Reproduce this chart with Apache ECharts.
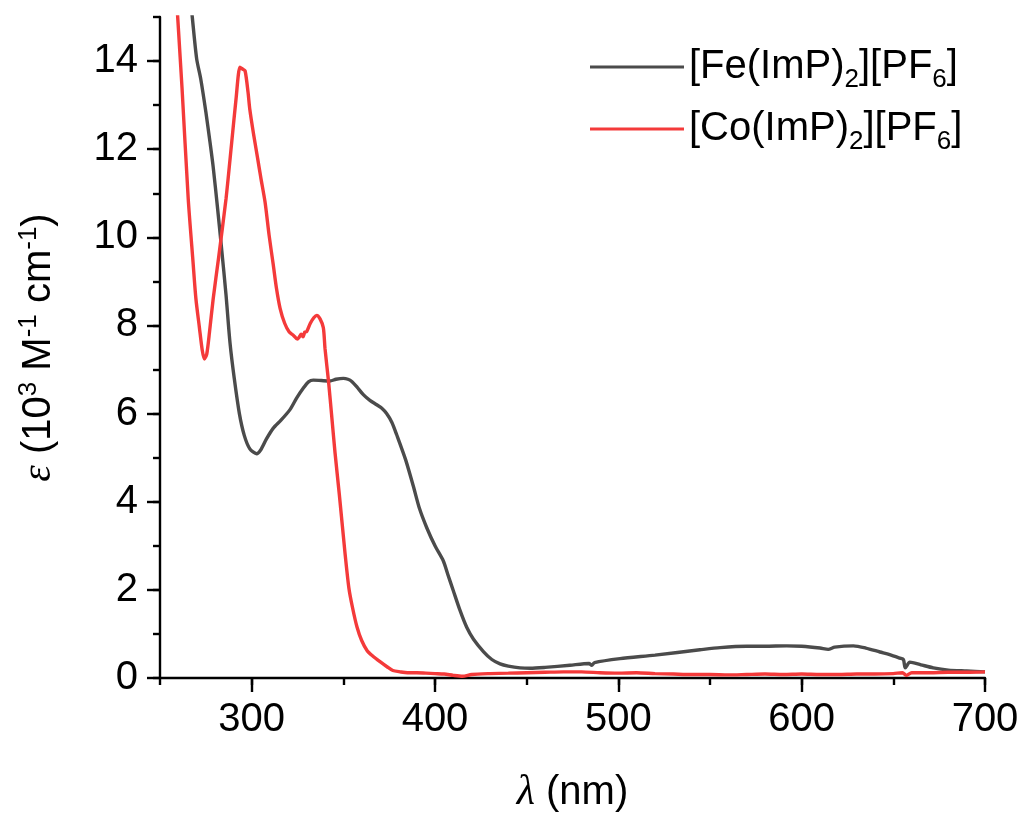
<!DOCTYPE html>
<html>
<head>
<meta charset="utf-8">
<script src="https://cdn.jsdelivr.net/npm/echarts@6/dist/echarts.min.js"></script>
<style>html,body{margin:0;padding:0;background:#fff}#c{width:1024px;height:819px}</style>
</head>
<body>
<div id="c"></div>
<script>
// Wavelengths (nm) and extinction coefficients (10^3 M^-1 cm^-1)
const feWl = [264, 267.6, 270, 272.2, 275, 277.3, 279, 281.3, 283.6, 286, 288.2, 290.5, 293.3, 296, 299, 302.7, 305, 308, 311.8, 316, 320.9, 324.5, 328.2, 331, 333.6, 338, 342.7, 346, 350, 352.5, 354.6, 357.5, 360.9, 364.5, 368.2, 371, 373.6, 376.5, 379.1, 384, 388.2, 391.5, 395.5, 400, 404.5, 407, 410, 413.5, 417.3, 421, 426.4, 431, 435.5, 440, 446.4, 452, 460, 473.6, 484, 485.5, 487, 500.9, 520, 544.5, 555.5, 570, 580, 591.8, 600, 610, 614.5, 618, 628.2, 635, 642.7, 648, 653.6, 655.5, 656.5, 659, 665, 671.8, 680, 690, 700];
const feEps = [16.5, 15.0, 14.05, 13.6, 12.85, 12.15, 11.6, 10.7, 9.74, 8.7, 7.6, 6.8, 6.0, 5.5, 5.2, 5.09, 5.18, 5.42, 5.67, 5.85, 6.09, 6.35, 6.58, 6.72, 6.76, 6.75, 6.74, 6.78, 6.8, 6.78, 6.73, 6.6, 6.43, 6.3, 6.2, 6.12, 6.0, 5.8, 5.52, 4.95, 4.35, 3.85, 3.41, 3.0, 2.66, 2.35, 1.98, 1.55, 1.15, 0.88, 0.6, 0.42, 0.32, 0.27, 0.23, 0.22, 0.24, 0.29, 0.33, 0.29, 0.35, 0.44, 0.52, 0.64, 0.69, 0.72, 0.72, 0.73, 0.72, 0.68, 0.65, 0.7, 0.73, 0.68, 0.59, 0.53, 0.45, 0.42, 0.23, 0.36, 0.3, 0.23, 0.18, 0.16, 0.14];

const coWl = [258, 262, 265.4, 268, 269.6, 271.5, 273, 274.2, 275.5, 277, 279, 282, 286, 289.1, 291.5, 293.6, 295, 296.4, 298, 299, 301, 303.3, 305, 307.3, 309.5, 311.8, 313.5, 315.5, 318, 320.5, 322.7, 324.9, 326, 327, 328, 329, 330, 332, 334, 335.5, 337.3, 339.1, 340, 342, 343.6, 345.5, 347.8, 351, 353, 355, 357.5, 360, 363, 366, 370, 374, 377, 381, 385, 390, 395, 400, 405, 410, 415, 420, 430, 440, 450, 460, 470, 480, 490, 500, 510, 520, 530, 540, 550, 560, 570, 580, 590, 600, 610, 620, 630, 640, 650, 655, 657, 660, 670, 680, 690, 700];
const coEps = [16.1, 13.4, 10.87, 9.45, 8.6, 7.95, 7.45, 7.24, 7.35, 7.85, 8.6, 9.55, 10.87, 12.15, 13.15, 13.86, 13.82, 13.78, 13.3, 12.9, 12.35, 11.78, 11.35, 10.8, 10.05, 9.37, 8.85, 8.39, 8.05, 7.85, 7.78, 7.69, 7.74, 7.8, 7.74, 7.85, 7.86, 8.05, 8.18, 8.23, 8.15, 7.95, 7.48, 6.7, 5.97, 5.1, 4.17, 2.8, 2.05, 1.6, 1.15, 0.85, 0.62, 0.5, 0.37, 0.25, 0.17, 0.14, 0.12, 0.12, 0.11, 0.10, 0.09, 0.06, 0.04, 0.08, 0.1, 0.11, 0.12, 0.13, 0.14, 0.14, 0.12, 0.11, 0.12, 0.1, 0.09, 0.08, 0.08, 0.07, 0.08, 0.09, 0.08, 0.09, 0.08, 0.08, 0.09, 0.09, 0.1, 0.12, 0.06, 0.12, 0.12, 0.13, 0.13, 0.14];

const seriesNames = ['Fe', 'Co'];
const xMajor = [300, 400, 500, 600, 700];
const yMajor = [0, 2, 4, 6, 8, 10, 12, 14];

const zip = (a, b) => a.map((v, i) => [v, b[i]]);
const FONT = '"Liberation Sans", Arial, sans-serif';
const SERIF = '"Liberation Serif", "DejaVu Serif", serif';
const FE_COLOR = '#4b4b4b';
const CO_COLOR = '#f43a3a';

const axisLine = { show: true, lineStyle: { color: '#000', width: 2.4 } };
const chart = echarts.init(document.getElementById('c'), null, { renderer: 'canvas' });
chart.setOption({
  animation: false,
  backgroundColor: '#fff',
  grid: { left: 160, right: 39, top: 17, bottom: 138, containLabel: false },
  legend: {
    orient: 'vertical', left: 585, top: 42, itemWidth: 94, itemHeight: 3, itemGap: 16,
    icon: 'rect',
    data: seriesNames,
    formatter: function (n) {
      return '{n|[' + n + '(ImP)}{s|2}{n|][PF}{s|6}{n|]}';
    },
    textStyle: {
      padding: [0, 0, 0, 0],
      rich: {
        n: { fontFamily: FONT, fontSize: 40, lineHeight: 44, color: '#000' },
        s: { fontFamily: FONT, fontSize: 26, lineHeight: 26, verticalAlign: 'bottom', color: '#000', padding: [0, 0, -4, 0] }
      }
    }
  },
  xAxis: [{
    type: 'value', min: 250, max: 700, interval: 50,
    axisLine: axisLine,
    axisTick: { show: true, inside: false, length: 7, lineStyle: { color: '#000', width: 2.4 } },
    axisLabel: { show: false },
    splitLine: { show: false },
    name: '{l|λ}{n| (nm)}', nameLocation: 'middle', nameGap: 94,
    nameTextStyle: { rich: {
      l: { fontFamily: SERIF, fontStyle: 'italic', fontSize: 42, color: '#000' },
      n: { fontFamily: FONT, fontSize: 40, color: '#000' } } }
  }, {
    type: 'value', min: 250, max: 700, position: 'bottom', offset: 0,
    axisLine: { show: false },
    axisTick: { show: true, length: 14, customValues: xMajor, lineStyle: { color: '#000', width: 2.4 } },
    axisLabel: { show: true, customValues: xMajor, margin: 22, fontFamily: FONT, fontSize: 40, color: '#000' },
    splitLine: { show: false }
  }],
  yAxis: [{
    type: 'value', min: 0, max: 15, interval: 1,
    axisLine: axisLine,
    axisTick: { show: true, length: 7, lineStyle: { color: '#000', width: 2.4 } },
    axisLabel: { show: false },
    splitLine: { show: false },
    name: '{e|ε}{n| (10}{s|3}{n| M}{s|-1}{n| cm}{s|-1}{n|)}', nameLocation: 'middle', nameGap: 98, nameRotate: 90,
    nameTextStyle: { rich: {
      e: { fontFamily: SERIF, fontStyle: 'italic', fontSize: 42, lineHeight: 46, color: '#000' },
      n: { fontFamily: FONT, fontSize: 40, lineHeight: 46, color: '#000' },
      s: { fontFamily: FONT, fontSize: 26, lineHeight: 26, verticalAlign: 'top', color: '#000' } } }
  }, {
    type: 'value', min: 0, max: 15, position: 'left', offset: 0,
    axisLine: { show: false },
    axisTick: { show: true, length: 13, customValues: yMajor, lineStyle: { color: '#000', width: 2.4 } },
    axisLabel: { show: true, customValues: yMajor, margin: 22, fontFamily: FONT, fontSize: 40, color: '#000' },
    splitLine: { show: false }
  }],
  series: [{
    name: seriesNames[0], type: 'line', xAxisIndex: 0, yAxisIndex: 0,
    data: zip(feWl, feEps), showSymbol: false, symbol: 'none', smooth: 0.25, clip: true,
    lineStyle: { color: FE_COLOR, width: 3.4 }, itemStyle: { color: FE_COLOR }, z: 3
  }, {
    name: seriesNames[1], type: 'line', xAxisIndex: 0, yAxisIndex: 0,
    data: zip(coWl, coEps), showSymbol: false, symbol: 'none', smooth: 0.25, clip: true,
    lineStyle: { color: CO_COLOR, width: 3.4 }, itemStyle: { color: CO_COLOR }, z: 4
  }]
});
</script>
</body>
</html>
